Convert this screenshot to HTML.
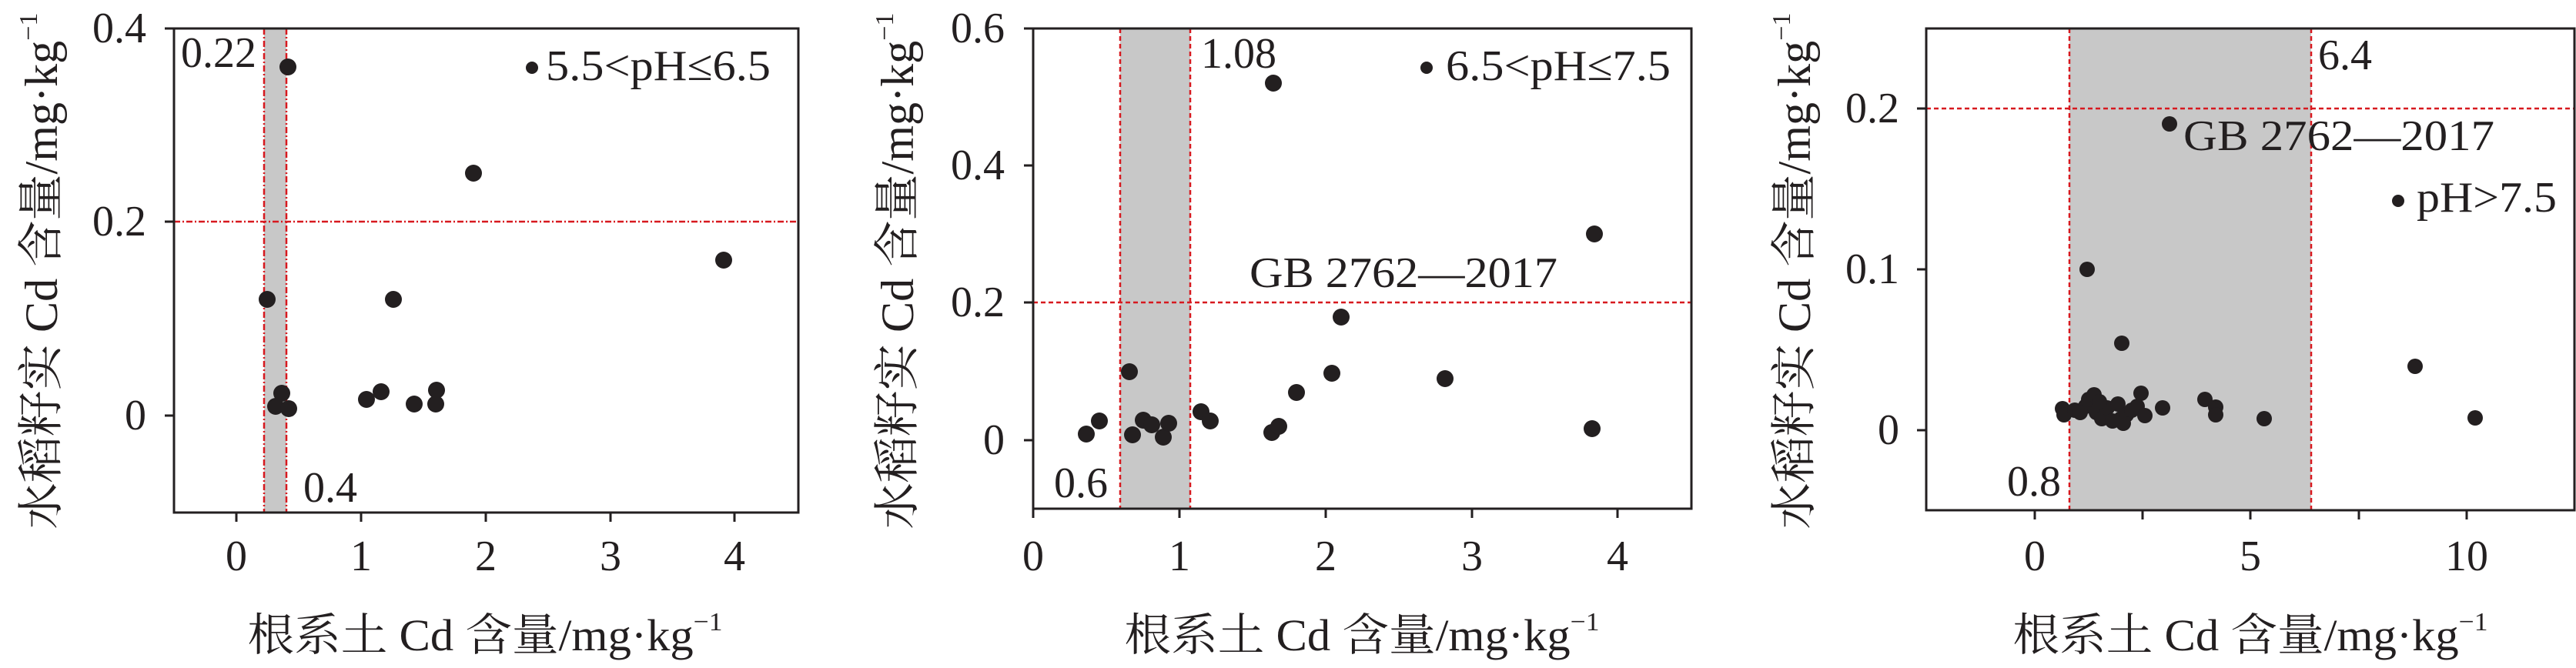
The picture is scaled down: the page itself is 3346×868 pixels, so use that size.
<!DOCTYPE html>
<html><head><meta charset="utf-8"><style>
html,body{margin:0;padding:0;background:#fff;}
svg{display:block;}
text{font-family:"Liberation Serif","Noto Serif CJK SC",serif;fill:#231f20;}
</style></head><body>
<svg width="3346" height="868" viewBox="0 0 3346 868" xmlns="http://www.w3.org/2000/svg">
<g font-size="56">
<!-- Panel 1 -->
<rect x="343" y="37" width="29" height="629" fill="#c8c8c8"/>
<g stroke="#d7191f" stroke-width="2.5" stroke-dasharray="8 3 2 3" fill="none">
<line x1="226" y1="288" x2="1037" y2="288"/>
<line x1="343" y1="37" x2="343" y2="666"/>
<line x1="372" y1="37" x2="372" y2="666"/>
</g>
<rect x="226" y="37" width="811" height="629" fill="none" stroke="#231f20" stroke-width="3"/>
<g stroke="#231f20" stroke-width="3">
<line x1="214" y1="37" x2="226" y2="37"/><line x1="214" y1="288" x2="226" y2="288"/><line x1="214" y1="540" x2="226" y2="540"/>
<line x1="307" y1="666" x2="307" y2="678"/><line x1="469" y1="666" x2="469" y2="678"/><line x1="631" y1="666" x2="631" y2="678"/><line x1="793" y1="666" x2="793" y2="678"/><line x1="954" y1="666" x2="954" y2="678"/>
</g>
<g text-anchor="end"><text x="190" y="55">0.4</text><text x="190" y="306">0.2</text><text x="190" y="558">0</text></g>
<g text-anchor="middle"><text x="307" y="741">0</text><text x="469" y="741">1</text><text x="631" y="741">2</text><text x="793" y="741">3</text><text x="954" y="741">4</text></g>
<text x="235" y="87">0.22</text>
<text x="394" y="652">0.4</text>
<circle cx="691" cy="88" r="8" fill="#231f20"/>
<text x="709" y="104" textLength="292" lengthAdjust="spacingAndGlyphs">5.5&lt;pH≤6.5</text>
<g fill="#231f20">
<circle cx="374" cy="87" r="11"/><circle cx="615" cy="225" r="11"/><circle cx="940" cy="338" r="11"/><circle cx="347" cy="389" r="11"/><circle cx="511" cy="389" r="11"/><circle cx="366" cy="511" r="11"/><circle cx="358" cy="528" r="11"/><circle cx="375" cy="531" r="11"/><circle cx="476" cy="519" r="11"/><circle cx="495" cy="509" r="11"/><circle cx="538" cy="525" r="11"/><circle cx="567" cy="507" r="11"/><circle cx="566" cy="525" r="11"/>
</g>
<text x="630" y="845" text-anchor="middle" font-size="58" textLength="617" lengthAdjust="spacingAndGlyphs">根系土 Cd 含量/mg·kg<tspan font-size="34" dy="-26">−1</tspan></text>
<text transform="translate(74,352) rotate(-90)" text-anchor="middle" font-size="60" textLength="671" lengthAdjust="spacingAndGlyphs">水稻籽实 Cd 含量/mg·kg<tspan font-size="34" dy="-26">−1</tspan></text>

<!-- Panel 2 -->
<rect x="1455" y="37" width="91" height="624" fill="#c8c8c8"/>
<g stroke="#d7191f" stroke-width="2.5" stroke-dasharray="6 4" fill="none">
<line x1="1342" y1="393" x2="2197" y2="393"/>
<line x1="1455" y1="37" x2="1455" y2="661"/>
<line x1="1546" y1="37" x2="1546" y2="661"/>
</g>
<rect x="1342" y="37" width="855" height="624" fill="none" stroke="#231f20" stroke-width="3"/>
<g stroke="#231f20" stroke-width="3">
<line x1="1330" y1="37" x2="1342" y2="37"/><line x1="1330" y1="215" x2="1342" y2="215"/><line x1="1330" y1="393" x2="1342" y2="393"/><line x1="1330" y1="572" x2="1342" y2="572"/>
<line x1="1342" y1="661" x2="1342" y2="673"/><line x1="1532" y1="661" x2="1532" y2="673"/><line x1="1722" y1="661" x2="1722" y2="673"/><line x1="1912" y1="661" x2="1912" y2="673"/><line x1="2101" y1="661" x2="2101" y2="673"/>
</g>
<g text-anchor="end"><text x="1305" y="55">0.6</text><text x="1305" y="233">0.4</text><text x="1305" y="411">0.2</text><text x="1305" y="590">0</text></g>
<g text-anchor="middle"><text x="1342" y="741">0</text><text x="1532" y="741">1</text><text x="1722" y="741">2</text><text x="1912" y="741">3</text><text x="2101" y="741">4</text></g>
<text x="1560" y="88">1.08</text>
<text x="1369" y="646">0.6</text>
<circle cx="1853" cy="88" r="8" fill="#231f20"/>
<text x="1878" y="104" textLength="292" lengthAdjust="spacingAndGlyphs">6.5&lt;pH≤7.5</text>
<text x="1623" y="373" textLength="400" lengthAdjust="spacingAndGlyphs">GB 2762—2017</text>
<g fill="#231f20">
<circle cx="1654" cy="108" r="11"/><circle cx="2071" cy="304" r="11"/><circle cx="1742" cy="412" r="11"/><circle cx="1467" cy="483" r="11"/><circle cx="1730" cy="485" r="11"/><circle cx="1877" cy="492" r="11"/><circle cx="1684" cy="510" r="11"/><circle cx="1560" cy="535" r="11"/><circle cx="1572" cy="547" r="11"/><circle cx="1411" cy="564" r="11"/><circle cx="1428" cy="547" r="11"/><circle cx="1471" cy="565" r="11"/><circle cx="1485" cy="546" r="11"/><circle cx="1496" cy="552" r="11"/><circle cx="1511" cy="568" r="11"/><circle cx="1518" cy="550" r="11"/><circle cx="1652" cy="562" r="11"/><circle cx="1661" cy="554" r="11"/><circle cx="2068" cy="557" r="11"/>
</g>
<text x="1769" y="845" text-anchor="middle" font-size="58" textLength="617" lengthAdjust="spacingAndGlyphs">根系土 Cd 含量/mg·kg<tspan font-size="34" dy="-26">−1</tspan></text>
<text transform="translate(1186,352) rotate(-90)" text-anchor="middle" font-size="60" textLength="671" lengthAdjust="spacingAndGlyphs">水稻籽实 Cd 含量/mg·kg<tspan font-size="34" dy="-26">−1</tspan></text>

<!-- Panel 3 -->
<rect x="2688" y="37" width="314" height="626" fill="#c8c8c8"/>
<g stroke="#d7191f" stroke-width="2.5" stroke-dasharray="6 4" fill="none">
<line x1="2502" y1="141" x2="3344" y2="141"/>
<line x1="2688" y1="37" x2="2688" y2="663"/>
<line x1="3002" y1="37" x2="3002" y2="663"/>
</g>
<rect x="2502" y="37" width="842" height="626" fill="none" stroke="#231f20" stroke-width="3"/>
<g stroke="#231f20" stroke-width="3">
<line x1="2490" y1="141" x2="2502" y2="141"/><line x1="2490" y1="350" x2="2502" y2="350"/><line x1="2490" y1="559" x2="2502" y2="559"/>
<line x1="2643" y1="663" x2="2643" y2="675"/><line x1="2783" y1="663" x2="2783" y2="675"/><line x1="2923" y1="663" x2="2923" y2="675"/><line x1="3064" y1="663" x2="3064" y2="675"/><line x1="3204" y1="663" x2="3204" y2="675"/>
</g>
<g text-anchor="end"><text x="2467" y="159">0.2</text><text x="2467" y="368">0.1</text><text x="2467" y="577">0</text></g>
<g text-anchor="middle"><text x="2643" y="741">0</text><text x="2923" y="741">5</text><text x="3204" y="741">10</text></g>
<text x="3011" y="90">6.4</text>
<text x="2607" y="644">0.8</text>
<text x="2836" y="195" textLength="404" lengthAdjust="spacingAndGlyphs">GB 2762—2017</text>
<circle cx="3115" cy="261" r="8" fill="#231f20"/>
<text x="3139" y="275" textLength="182" lengthAdjust="spacingAndGlyphs">pH&gt;7.5</text>
<g fill="#231f20">
<circle cx="2818" cy="161" r="10"/><circle cx="2711" cy="350" r="10"/><circle cx="2756" cy="446" r="10"/><circle cx="3137" cy="476" r="10"/><circle cx="3215" cy="543" r="10"/><circle cx="2941" cy="544" r="10"/><circle cx="2864" cy="519" r="10"/><circle cx="2878" cy="529" r="10"/><circle cx="2878" cy="539" r="10"/><circle cx="2781" cy="511" r="10"/><circle cx="2809" cy="530" r="10"/><circle cx="2679" cy="531" r="10"/><circle cx="2681" cy="539" r="10"/><circle cx="2695" cy="533" r="10"/><circle cx="2709" cy="528" r="10"/><circle cx="2713" cy="519" r="10"/><circle cx="2720" cy="513" r="10"/><circle cx="2723" cy="536" r="10"/><circle cx="2730" cy="544" r="10"/><circle cx="2737" cy="530" r="10"/><circle cx="2751" cy="525" r="10"/><circle cx="2755" cy="544" r="10"/><circle cx="2762" cy="539" r="10"/><circle cx="2769" cy="533" r="10"/><circle cx="2776" cy="528" r="10"/><circle cx="2786" cy="540" r="10"/><circle cx="2702" cy="536" r="10"/><circle cx="2727" cy="522" r="10"/><circle cx="2744" cy="547" r="10"/><circle cx="2758" cy="550" r="10"/>
</g>
<text x="2923" y="845" text-anchor="middle" font-size="58" textLength="617" lengthAdjust="spacingAndGlyphs">根系土 Cd 含量/mg·kg<tspan font-size="34" dy="-26">−1</tspan></text>
<text transform="translate(2351,352) rotate(-90)" text-anchor="middle" font-size="60" textLength="671" lengthAdjust="spacingAndGlyphs">水稻籽实 Cd 含量/mg·kg<tspan font-size="34" dy="-26">−1</tspan></text>
</g>
</svg>
</body></html>
